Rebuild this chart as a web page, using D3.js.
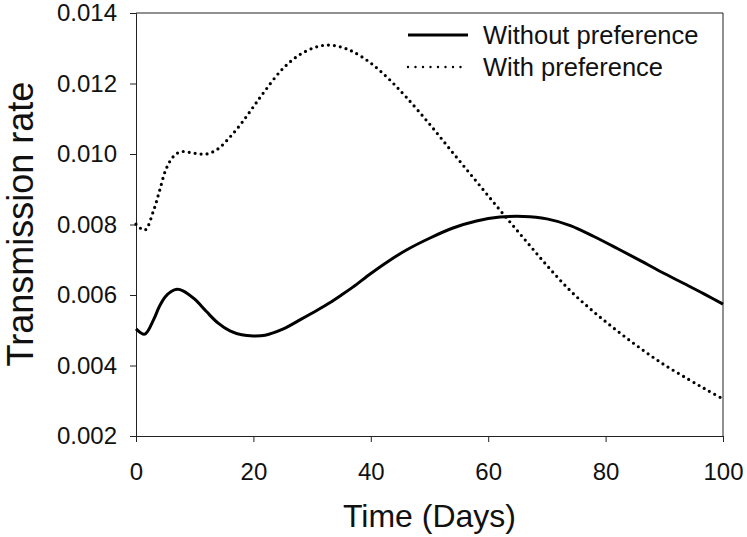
<!DOCTYPE html>
<html>
<head>
<meta charset="utf-8">
<script src="https://cdn.jsdelivr.net/npm/d3@7"></script>
<style>
  html, body { margin: 0; padding: 0; background: #fff; }
  svg { display: block; font-family: "Liberation Sans", Arial, sans-serif; }
</style>
</head>
<body>
<svg id="chart" width="747" height="537"></svg>
<script>
// ---- data ----
const days = [0, 1.5, 3, 4, 5, 6, 7, 8, 10, 12, 14, 16, 18, 20, 22, 25, 28, 31, 33, 35, 37, 40, 43, 46, 50, 54, 58, 62, 66, 70, 74, 78, 82, 86, 90, 94, 97, 100];
const withoutPreference = [0.00504, 0.00489, 0.00530, 0.00568, 0.00595, 0.00610, 0.00616, 0.00612, 0.00588, 0.00553, 0.00520, 0.00498, 0.00487, 0.00484, 0.00486, 0.00503, 0.00530, 0.00558, 0.00578, 0.00600, 0.00623, 0.00661, 0.00696, 0.00727, 0.00761, 0.00790, 0.00810, 0.00821, 0.00823, 0.00816, 0.00797, 0.00766, 0.00732, 0.00697, 0.00661, 0.00627, 0.00601, 0.00574];
const withPreference = [0.00801, 0.00784, 0.00840, 0.00895, 0.00952, 0.00985, 0.01002, 0.01007, 0.01002, 0.01000, 0.01015, 0.01048, 0.01088, 0.01134, 0.01180, 0.01242, 0.01283, 0.01305, 0.01309, 0.01303, 0.01290, 0.01258, 0.01214, 0.01162, 0.01085, 0.01003, 0.00922, 0.00841, 0.00762, 0.00684, 0.00612, 0.00552, 0.00498, 0.00448, 0.00402, 0.00362, 0.00333, 0.00305];
const xTicks = [0, 20, 40, 60, 80, 100];
const yTicks = [0.002, 0.004, 0.006, 0.008, 0.010, 0.012, 0.014];
const seriesNames = ["Without preference", "With preference"];
const xTitle = "Time (Days)";
const yTitle = "Transmission rate";

// ---- layout ----
const svg = d3.select("#chart");
const L = 136, R = 723, T = 13, B = 436;
const x = d3.scaleLinear().domain([0, 100]).range([L, R]);
const y = d3.scaleLinear().domain([0.002, 0.014]).range([B, T]);
const tickFont = 24;

// frame (top & right)
svg.append("path")
  .attr("d", `M${L},${T}H${R}V${B}`)
  .attr("fill", "none").attr("stroke", "#222").attr("stroke-width", 1);

// axes
const gx = svg.append("g").attr("transform", `translate(0,${B})`)
  .call(d3.axisBottom(x).tickValues(xTicks).tickSize(6).tickPadding(21).tickFormat(d3.format("d")));
const gy = svg.append("g").attr("transform", `translate(${L},0)`)
  .call(d3.axisLeft(y).tickValues(yTicks).tickSize(6).tickPadding(13).tickFormat(d3.format(".3f")));
[gx, gy].forEach(g => {
  g.select(".domain").attr("stroke", "#222");
  g.selectAll(".tick line").attr("stroke", "#222");
  g.selectAll(".tick text").attr("font-size", tickFont).attr("fill", "#111")
    .attr("font-family", "Liberation Sans, Arial, sans-serif");
});

// lines
const pts = vals => days.map((d, i) => [d, vals[i]]);
const line = d3.line().x(d => x(d[0])).y(d => y(d[1])).curve(d3.curveCatmullRom.alpha(0.5));

svg.append("path").datum(pts(withoutPreference))
  .attr("d", line).attr("fill", "none").attr("stroke", "#000")
  .attr("stroke-width", 3).attr("stroke-linejoin", "round");

svg.append("path").datum(pts(withPreference))
  .attr("d", line).attr("fill", "none").attr("stroke", "#000")
  .attr("stroke-width", 3.2).attr("stroke-linecap", "round")
  .attr("stroke-dasharray", "0 6");

// legend
const leg = svg.append("g");
const legRows = [{ y: 35, dash: null, w: 3 }, { y: 67, dash: "0 7.5", w: 2.4 }];
legRows.forEach((r, i) => {
  const l = leg.append("line").attr("x1", 408).attr("x2", 468).attr("y1", r.y).attr("y2", r.y)
    .attr("stroke", "#000").attr("stroke-width", r.w);
  if (r.dash) l.attr("stroke-dasharray", r.dash).attr("stroke-linecap", "round");
  leg.append("text").attr("x", 483).attr("y", r.y + 9).attr("font-size", 25.5).attr("fill", "#111")
    .text(seriesNames[i]);
});

// axis titles
svg.append("text").attr("x", (L + R) / 2).attr("y", 527).attr("text-anchor", "middle")
  .attr("font-size", 32).attr("fill", "#111").text(xTitle);
svg.append("text").attr("transform", `translate(33,224) rotate(-90)`).attr("text-anchor", "middle")
  .attr("font-size", 36).attr("fill", "#111").text(yTitle);
</script>
</body>
</html>
